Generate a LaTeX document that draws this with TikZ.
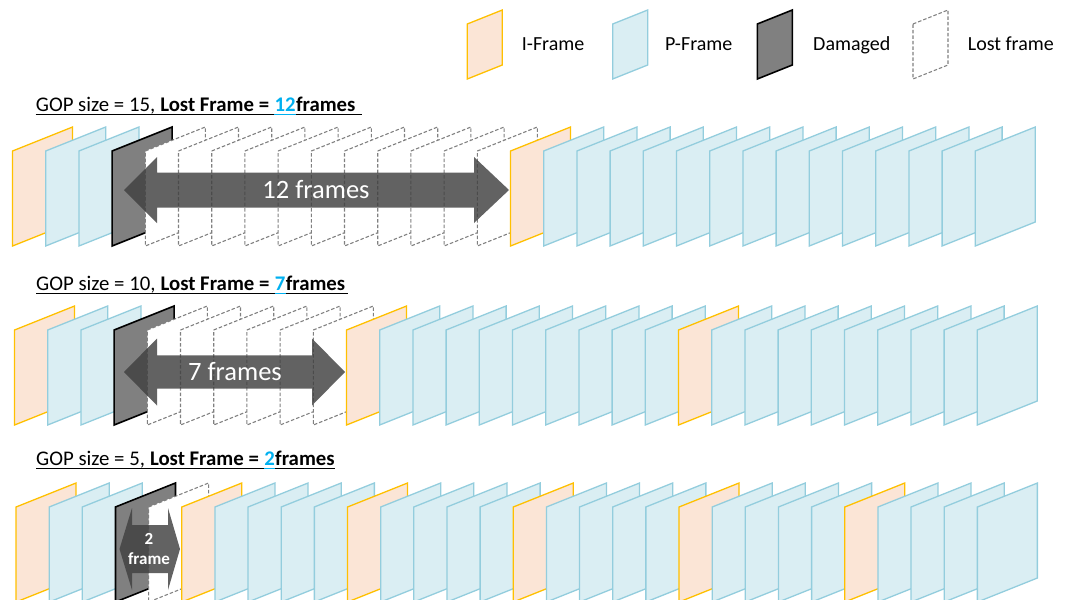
\documentclass[tikz,border=0pt]{standalone}
\usepackage{fontspec}
\setmainfont{Carlito}
\definecolor{ifill}{HTML}{FBE5D6}
\definecolor{iline}{HTML}{FFC000}
\definecolor{pfill}{HTML}{DAEEF3}
\definecolor{pline}{HTML}{93CDDD}
\definecolor{dfill}{HTML}{808080}
\definecolor{lline}{HTML}{808080}
\definecolor{cblue}{HTML}{00B0F0}
\definecolor{arrowc}{HTML}{404040}
\newcommand\frshape[3]{\draw[#1] (#2,#3) -- ++(60,-24) -- ++(0,95) -- ++(-60,24) -- cycle;}
\newcommand\legshape[3]{\draw[#1] (#2,#3) -- ++(35,-14) -- ++(0,55) -- ++(-35,14) -- cycle;}
\begin{document}
\begin{tikzpicture}[x=1pt,y=-1pt,
  frI/.style={fill=ifill,draw=iline,line width=1.3pt,line join=miter},
  frP/.style={fill=pfill,draw=pline,line width=1.3pt},
  frD/.style={fill=dfill,draw=black,line width=1.6pt},
  frL/.style={fill=white,draw=lline,line width=1.1pt,dash pattern=on 3.5pt off 2pt},
  bigarrow/.style={fill=arrowc,fill opacity=0.82},
  legtxt/.style={font=\fontsize{20}{24}\selectfont,inner sep=0pt,anchor=base west},
  lbl/.style={font=\fontsize{20.8}{24}\selectfont,inner sep=0pt,anchor=base west},
  arrtxt/.style={font=\fontsize{26.5}{30}\selectfont,text=white,inner sep=0pt},
  smalltxt/.style={font=\fontsize{17}{20}\selectfont\bfseries,text=white,inner sep=0pt},
  uline/.style={line width=0.8pt}]
\useasboundingbox (0,0) rectangle (1069,600);
% legend
\legshape{frI}{467.3}{24}
\node[legtxt] (legI) at (521.7,50) {I-Frame};
\legshape{frP}{612.7}{24}
\node[legtxt] (legP) at (665,50) {P-Frame};
\legshape{frD}{757.3}{24}
\node[legtxt] (legD) at (813,50) {Damaged};
\legshape{frL}{913}{24}
\node[legtxt] (legL) at (967.7,50) {Lost frame};
% row 1
\node[lbl] (l1a) at (35.7,111) {GOP size = 15,\kern5pt\textbf{Lost Frame =}};
\node[lbl,text=cblue] (l1b) at ([xshift=5pt]l1a.base east) {\textbf{12}};
\node[lbl] (l1c) at (l1b.base east) {\textbf{frames}};
\draw[uline] ([yshift=-3pt]l1a.base west) -- ([yshift=-3pt,xshift=6pt]l1c.base east);
\draw[uline,cblue] ([yshift=-3pt]l1b.base west) -- ([yshift=-3pt]l1b.base east);
\foreach \s [count=\i from 0] in {I,P,P,D,L,L,L,L,L,L,L,L,L,L,L,I,P,P,P,P,P,P,P,P,P,P,P,P,P,P}{
  \frshape{fr\s}{12.5+33.2*\i}{151}
}
\fill[bigarrow] (124,190) -- (157,157) -- (157,172.5) -- (474,172.5) -- (474,157) -- (509,190) -- (474,223) -- (474,207.5) -- (157,207.5) -- (157,223) -- cycle;
\node[arrtxt] (a1) at (316,190) {12 frames};
% row 2
\node[lbl] (l2a) at (36,290) {GOP size = 10,\kern5pt\textbf{Lost Frame =}};
\node[lbl,text=cblue] (l2b) at ([xshift=5pt]l2a.base east) {\textbf{7}};
\node[lbl] (l2c) at (l2b.base east) {\textbf{frames}};
\draw[uline] ([yshift=-3pt]l2a.base west) -- ([yshift=-3pt,xshift=3pt]l2c.base east);
\draw[uline,cblue] ([yshift=-3pt]l2b.base west) -- ([yshift=-3pt]l2b.base east);
\foreach \s [count=\i from 0] in {I,P,P,D,L,L,L,L,L,L,I,P,P,P,P,P,P,P,P,P,I,P,P,P,P,P,P,P,P,P}{
  \frshape{fr\s}{14.5+33.2*\i}{330}
}
\fill[bigarrow] (124,372) -- (157,338.5) -- (157,355.3) -- (312,355.3) -- (312,338.5) -- (345,372) -- (312,405.5) -- (312,388.7) -- (157,388.7) -- (157,405.5) -- cycle;
\node[arrtxt] (a2) at (235,372) {7 frames};
% row 3
\node[lbl] (l3a) at (36,465) {GOP size = 5,\kern5pt\textbf{Lost Frame =}};
\node[lbl,text=cblue] (l3b) at ([xshift=5pt]l3a.base east) {\textbf{2}};
\node[lbl] (l3c) at (l3b.base east) {\textbf{frames}};
\draw[uline] ([yshift=-3pt]l3a.base west) -- ([yshift=-3pt]l3c.base east);
\draw[uline,cblue] ([yshift=-3pt]l3b.base west) -- ([yshift=-3pt]l3b.base east);
\foreach \s [count=\i from 0] in {I,P,P,D,L,I,P,P,P,P,I,P,P,P,P,I,P,P,P,P,I,P,P,P,P,I,P,P,P,P}{
  \frshape{fr\s}{16+33.15*\i}{507}
}
\fill[bigarrow] (119.5,549) -- (132,508) -- (132,525) -- (168,525) -- (168,508) -- (180,549) -- (168,590) -- (168,573) -- (132,573) -- (132,590) -- cycle;
\node[smalltxt] (a3a) at (149,539) {2};
\node[smalltxt] (a3b) at (149,559) {frame};
\end{tikzpicture}
\end{document}
